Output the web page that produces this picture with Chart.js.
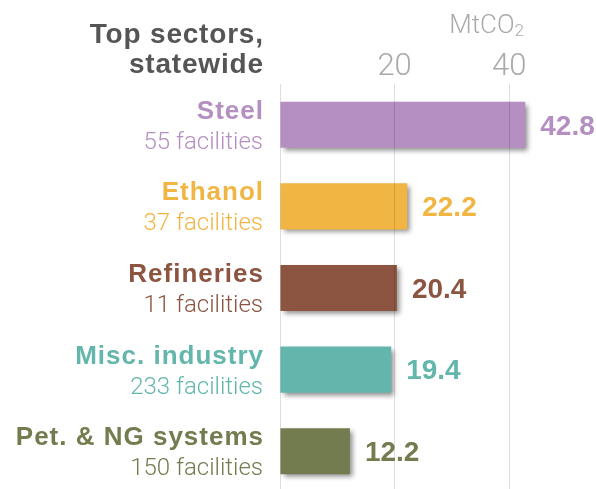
<!DOCTYPE html>
<html>
<head>
<meta charset="utf-8">
<script src="https://cdn.jsdelivr.net/npm/chart.js@4.4.0/dist/chart.umd.min.js"></script>
<style>
    html, body { margin: 0; padding: 0; background: #fff; overflow: hidden; }
    #wrap { position: relative; width: 596px; height: 492px; }
</style>
</head>
<body>
<div id="wrap"><canvas id="sectors-chart"></canvas></div>
<script>
// Sector emissions, MtCO2
const sectors = ['Steel', 'Ethanol', 'Refineries', 'Misc. industry', 'Pet. & NG systems'];
const facilityCounts = [55, 37, 11, 233, 150];
const emissions = [42.8, 22.2, 20.4, 19.4, 12.2];
const sectorColors = ['#b58fc1', '#f1b544', '#8b5541', '#63b6ac', '#737c4f'];
const xTicks = [0, 20, 40];

const BOLD = '"Liberation Sans", Arial, sans-serif';
const LIGHT = 'Roboto, "Liberation Sans", sans-serif';

// soft drop shadow under every bar
const barShadow = {
    id: 'barShadow',
    beforeDatasetDraw(chart) {
        const ctx = chart.ctx;
        ctx.save();
        ctx.shadowColor = 'rgba(0, 0, 0, 0.45)';
        ctx.shadowBlur = 5;
        ctx.shadowOffsetX = 3;
        ctx.shadowOffsetY = 3;
    },
    afterDatasetDraw(chart) {
        chart.ctx.restore();
    }
};

// right-aligned text with a bit of tracking, the trailing gap taken back out
function spacedRight(ctx, text, x, y, spacing) {
    ctx.letterSpacing = spacing + 'px';
    ctx.fillText(text, x + spacing, y);
    ctx.letterSpacing = '0px';
}

// heading, unit, sector names and the value next to each bar
const textLayer = {
    id: 'textLayer',
    afterDraw(chart) {
        const ctx = chart.ctx;
        const yScale = chart.scales.y;
        ctx.save();

        ctx.fillStyle = '#555';
        ctx.textAlign = 'right';
        ctx.textBaseline = 'alphabetic';
        ctx.font = 'bold 28px ' + BOLD;
        spacedRight(ctx, 'Top sectors,', 263, 43, 0.8);
        spacedRight(ctx, 'statewide', 263, 73, 0.8);

        // MtCO2 with a small subscript
        ctx.fillStyle = '#aaa';
        ctx.font = '300 17px ' + LIGHT;
        const subW = ctx.measureText('2').width;
        ctx.fillText('2', 524, 36);
        ctx.font = '300 26px ' + LIGHT;
        ctx.fillText('MtCO', 524 - subW, 33);

        sectors.forEach((name, i) => {
            const y = yScale.getPixelForValue(i);
            ctx.fillStyle = sectorColors[i];
            ctx.textAlign = 'right';
            ctx.font = 'bold 26px ' + BOLD;
            spacedRight(ctx, name, 263, y - 6, 1);
            ctx.font = '300 24px ' + LIGHT;
            ctx.fillText(facilityCounts[i] + ' facilities', 263, y + 24);
        });

        const bars = chart.getDatasetMeta(0).data;
        ctx.textAlign = 'left';
        ctx.textBaseline = 'middle';
        ctx.font = 'bold 28px ' + BOLD;
        bars.forEach((bar, i) => {
            ctx.fillStyle = sectorColors[i];
            ctx.fillText(emissions[i].toFixed(1), bar.x + 15, bar.y + 2);
        });
        ctx.restore();
    }
};

new Chart(document.getElementById('sectors-chart'), {
    type: 'bar',
    data: {
        labels: sectors,
        datasets: [{
            data: emissions,
            backgroundColor: sectorColors,
            borderWidth: 0,
            categoryPercentage: 1,
            barPercentage: 0.565
        }]
    },
    plugins: [barShadow, textLayer],
    options: {
        indexAxis: 'y',
        responsive: true,
        maintainAspectRatio: false,
        animation: false,
        events: [],
        layout: { padding: { left: 0, right: 18, top: 0, bottom: 0 } },
        plugins: {
            legend: { display: false },
            tooltip: { enabled: false }
        },
        scales: {
            x: {
                position: 'top',
                min: 0,
                max: 52,
                afterBuildTicks: (scale) => {
                    scale.ticks = xTicks.map(v => ({ value: v }));
                },
                afterFit: (scale) => { scale.height = 84; },
                grid: {
                    color: 'rgba(0, 0, 0, 0.13)',
                    lineWidth: 1,
                    drawTicks: false,
                    z: 1
                },
                border: { display: false },
                ticks: {
                    padding: -2,
                    color: '#aaa',
                    font: { family: LIGHT, size: 31, weight: '300' },
                    callback: (v) => (v === 0 ? '' : v)
                }
            },
            y: {
                afterFit: (scale) => { scale.width = 280; },
                grid: { display: false },
                border: { display: false },
                ticks: { display: false }
            }
        }
    }
});
</script>
</body>
</html>
